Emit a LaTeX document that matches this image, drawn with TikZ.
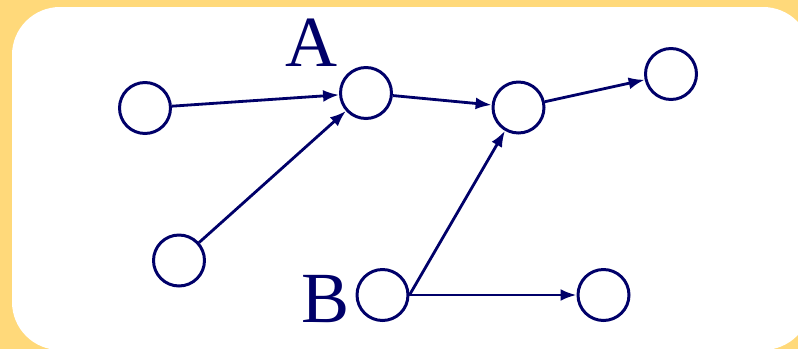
\documentclass[tikz,border=0pt]{standalone}
\usepackage{fontspec}
\setmainfont{Liberation Serif}
\usetikzlibrary{arrows.meta}
\definecolor{navy}{RGB}{0,0,105}
\definecolor{paneyellow}{RGB}{255,217,122}
\tikzset{
  vtx/.style={circle, draw=navy, line width=1.7pt, fill=white, minimum size=1.02cm, inner sep=0pt},
  arc/.style={navy, line width=1.6pt, -{Latex[length=3.2mm,width=2.4mm]}},
  lbl/.style={navy, anchor=base, inner sep=0pt, font=\fontsize{41}{41}\selectfont}
}
\begin{document}
\begin{tikzpicture}[x=0.02cm,y=-0.02cm]
    \useasboundingbox (0,0) rectangle (798,349);
    \fill[paneyellow] (0,0) rectangle (798,349);
    \begin{scope}
        \clip (0,0) rectangle (798,349);
        \fill[white, rounded corners=0.96cm] (12,7) rectangle (811,350);
    \end{scope}
    % vertices
    \node[vtx] (u1) at (145,108) {};
    \node[vtx] (a) at (366,93) {};
    \node[vtx] (u3) at (518.5,107.5) {};
    \node[vtx] (u4) at (671,74) {};
    \node[vtx] (u5) at (179,260.5) {};
    \node[vtx] (b) at (382.5,295) {};
    \node[vtx] (u7) at (603.5,295) {};
    \node[lbl] (la) at (311.5,66.7) {A};
    \node[lbl] (lb) at (325.5,322) {B};
    % edges
    \draw[arc] (u1) -- (a);
    \draw[arc] (u5) -- (a);
    \draw[arc] (a) -- (u3);
    \draw[arc] (u3) -- (u4);
    \draw[arc] (b.east) -- (u3);
    \draw[arc] (b.east) -- (u7);
\end{tikzpicture}
\end{document}
